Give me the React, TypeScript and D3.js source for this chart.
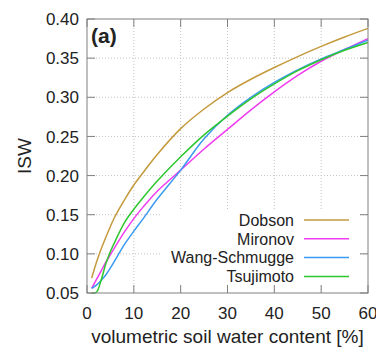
import React from "react";
import * as d3 from "d3";

const moisture = [1, 2, 3, 4, 5, 6, 8, 10, 12, 15, 20, 25, 30, 35, 40, 45, 50, 55, 60];
const dobson = [0.069, 0.089, 0.106, 0.121, 0.135, 0.148, 0.169, 0.188, 0.204, 0.227, 0.26, 0.285, 0.306, 0.323, 0.338, 0.352, 0.365, 0.377, 0.388];
const mironov = [0.056, 0.067, 0.078, 0.089, 0.099, 0.109, 0.128, 0.145, 0.16, 0.18, 0.207, 0.234, 0.259, 0.284, 0.307, 0.328, 0.346, 0.361, 0.375];
const wangSchmugge = [0.056, 0.06, 0.066, 0.073, 0.082, 0.092, 0.112, 0.129, 0.145, 0.17, 0.207, 0.247, 0.277, 0.3, 0.319, 0.335, 0.349, 0.361, 0.373];
const tsujimoto = [0.05, 0.051, 0.066, 0.087, 0.103, 0.116, 0.14, 0.157, 0.172, 0.193, 0.224, 0.252, 0.276, 0.298, 0.317, 0.334, 0.348, 0.36, 0.37];

const seriesNames = ["Dobson", "Mironov", "Wang-Schmugge", "Tsujimoto"];
const seriesColors = ["#c49a3c", "#f03cf0", "#3a9af0", "#2ec62e"];
const seriesValues = [dobson, mironov, wangSchmugge, tsujimoto];

const xTicks = [0, 10, 20, 30, 40, 50, 60];
const yTicks = [0.05, 0.1, 0.15, 0.2, 0.25, 0.3, 0.35, 0.4];

const FONT = "'Liberation Sans', Arial, sans-serif";

export default function App() {
  const W = 376, H = 348;
  const left = 87, right = 368, top = 19, bottom = 293;
  const x = d3.scaleLinear().domain([0, 60]).range([left, right]);
  const y = d3.scaleLinear().domain([0.05, 0.4]).range([bottom, top]);
  const line = d3
    .line<number>()
    .x((_, i) => x(moisture[i]))
    .y((d) => y(d))
    .curve(d3.curveCatmullRom.alpha(0.5));

  const axisColor = "#808080";
  const gridColor = "#c4c4c4";
  const tickLen = 8;

  const legendRight = 294;
  const legendTop = 220;
  const legendStep = 18.8;

  return (
    <svg
      width={W}
      height={H}
      style={{ position: "absolute", left: 0, top: 0, background: "#fff" }}
    >
      <rect x={0} y={0} width={W} height={H} fill="#fff" />
      {/* grid */}
      {xTicks.slice(1, -1).map((t) => (
        <line key={"gx" + t} x1={x(t)} x2={x(t)} y1={top} y2={bottom} stroke={gridColor} strokeDasharray="1,2" />
      ))}
      {yTicks.slice(1, -1).map((t) => (
        <line key={"gy" + t} x1={left} x2={right} y1={y(t)} y2={y(t)} stroke={gridColor} strokeDasharray="1,2" />
      ))}
      {/* legend opaque box */}
      <rect x={161} y={210.5} width={199} height={76} fill="#fff" />
      {/* curves */}
      {seriesValues.map((vals, k) => (
        <path key={seriesNames[k]} d={line(vals) || ""} fill="none" stroke={seriesColors[k]} strokeWidth={1.5} />
      ))}
      {/* border */}
      <rect x={left} y={top} width={right - left} height={bottom - top} fill="none" stroke={axisColor} strokeWidth={1} />
      {/* ticks */}
      {xTicks.map((t) => (
        <g key={"tx" + t}>
          <line x1={x(t)} x2={x(t)} y1={bottom} y2={bottom - tickLen} stroke={axisColor} />
          <line x1={x(t)} x2={x(t)} y1={top} y2={top + tickLen} stroke={axisColor} />
          <text x={x(t)} y={319} textAnchor="middle" fontFamily={FONT} fontSize={17} fill="#222">
            {t}
          </text>
        </g>
      ))}
      {yTicks.map((t) => (
        <g key={"ty" + t}>
          <line x1={left} x2={left + tickLen} y1={y(t)} y2={y(t)} stroke={axisColor} />
          <line x1={right} x2={right - tickLen} y1={y(t)} y2={y(t)} stroke={axisColor} />
          <text x={79} y={y(t)} dy="0.36em" textAnchor="end" fontFamily={FONT} fontSize={17} fill="#222">
            {t.toFixed(2)}
          </text>
        </g>
      ))}
      {/* axis titles */}
      <text x={(left + right) / 2} y={343} textAnchor="middle" fontFamily={FONT} fontSize={19} fill="#222">
        volumetric soil water content [%]
      </text>
      <text
        transform={`translate(31, ${(top + bottom) / 2}) rotate(-90)`}
        textAnchor="middle"
        fontFamily={FONT}
        fontSize={19}
        fill="#222"
      >
        ISW
      </text>
      <text x={91} y={43} fontFamily={FONT} fontSize={21} fontWeight="bold" fill="#222">
        (a)
      </text>
      {/* legend */}
      {seriesNames.map((name, k) => (
        <g key={"lg" + name}>
          <text x={legendRight} y={legendTop + k * legendStep} dy="0.36em" textAnchor="end" fontFamily={FONT} fontSize={16} fill="#222">
            {name}
          </text>
          <line
            x1={304}
            x2={349}
            y1={legendTop + k * legendStep}
            y2={legendTop + k * legendStep}
            stroke={seriesColors[k]}
            strokeWidth={1.5}
          />
        </g>
      ))}
    </svg>
  );
}
